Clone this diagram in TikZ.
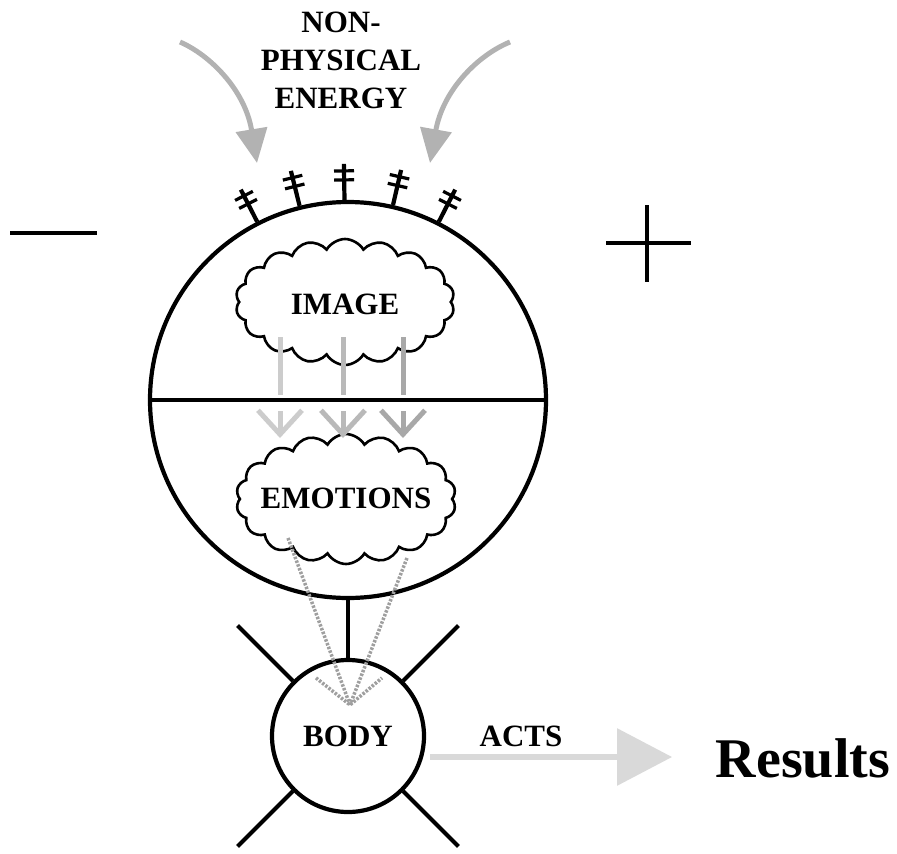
\documentclass[tikz,border=0pt]{standalone}
\usepackage{fontspec}
\setmainfont{Liberation Serif}
\usetikzlibrary{arrows.meta,shapes.symbols,calc}

\begin{document}
\begin{tikzpicture}[x=1pt,y=1pt,yscale=-1,
  ring/.style={draw,circle,line width=4.2pt,inner sep=0pt},
  puff/.style={draw,cloud,cloud puffs=18,cloud puff arc=120,line width=2.6pt,inner sep=0pt},
  word/.style={font=\bfseries\fontsize{31}{38}\selectfont,inner sep=0pt},
  wire/.style={line width=4.2pt},
  ray/.style={line width=5pt},
  energy/.style={draw=gray!60,line width=5pt,-{Triangle[length=34pt,width=31pt,fill=gray!60]}},
  trail/.style={draw=gray!75,line width=3.5pt,dash pattern=on 2.5pt off 1.5pt}]
\useasboundingbox (0,0) rectangle (897,854);

% Text Node
\node[word,align=center] (title) at (341,60) {NON-\\PHYSICAL\\ENERGY};
\coordinate (lsrc) at (180,42);
\coordinate (rsrc) at (510,42);
% incoming energy
\draw[energy] (lsrc) .. controls (210,55) and (245,90) .. (257,163);
\draw[energy] (rsrc) .. controls (478,55) and (443,90) .. (430,163);

%Shape: Circle
\node[ring,minimum size=396pt] (head) at (348,400) {};
\draw[line width=4.6pt] (head.west) -- (head.east);
% antennas
\foreach \a in {117,104,91,77,63}{
  \draw[wire] (head.\a) -- ($(head.center)!1.18!(head.\a)$);
  \draw[line width=3.2pt] ($(head.center)!1.10!(head.\a)!10pt!90:(head.center)$) -- ($(head.center)!1.10!(head.\a)!10pt!-90:(head.center)$);
  \draw[line width=3.2pt] ($(head.center)!1.145!(head.\a)!10pt!90:(head.center)$) -- ($(head.center)!1.145!(head.\a)!10pt!-90:(head.center)$);
}

% minus / plus
\draw[line width=4.6pt] (10,233) -- (97,233);
\draw[line width=4.6pt] (606,243) -- (691,243) (647,205) -- (647,282);

%Shape: Cloud
\node[puff,minimum width=219pt,minimum height=126pt] (imagecloud) at (345,302) {};
\node[word] (image) at (345,304) {IMAGE};
\node[puff,minimum width=220pt,minimum height=130pt] (emotionscloud) at (346,499) {};
\node[word] (emotions) at (346,498) {EMOTIONS};

% image -> emotions
\foreach \dx/\c in {-65/40,-2/55,58/68}{
  \draw[ray,draw=gray!\c] ($(imagecloud.center)+(\dx,35)$) -- ($(imagecloud.center)+(\dx,93)$);
  \draw[ray,draw=gray!\c,-{Straight Barb[length=24pt,width=44pt]}] ($(emotionscloud.center)+(\dx-1,-88)$) -- ($(emotionscloud.center)+(\dx-1,-61)$);
}

%Shape: Circle
\node[ring,minimum size=152pt,word] (body) at (348,736) {BODY};
\draw[wire] (head.south) -- (body.north);
\foreach \a in {45,135,225,315}
  \draw[wire] (body.\a) -- ($(body.center)!2!(body.\a)$);

% emotions -> body
\coordinate (landing) at ($(body.north)+(2,47)$);
\draw[trail] ($(emotionscloud.center)+(-58,39)$) -- (landing);
\draw[trail] ($(emotionscloud.center)+(61,59)$) -- (landing);
\draw[trail] ($(landing)+(-34,-27)$) -- (landing) -- ($(landing)+(32,-27)$);

% acts -> results
\draw[draw=gray!30,line width=6pt,-{Triangle[length=55pt,width=56pt,fill=gray!30]}] ($(body.east)+(4,21)$) -- ++(242,0);
\node[word] (acts) at (521,736) {ACTS};
\node[font=\bfseries\fontsize{56}{60}\selectfont,inner sep=0pt,anchor=base] (results) at (803,777) {Results};
\end{tikzpicture}
\end{document}
